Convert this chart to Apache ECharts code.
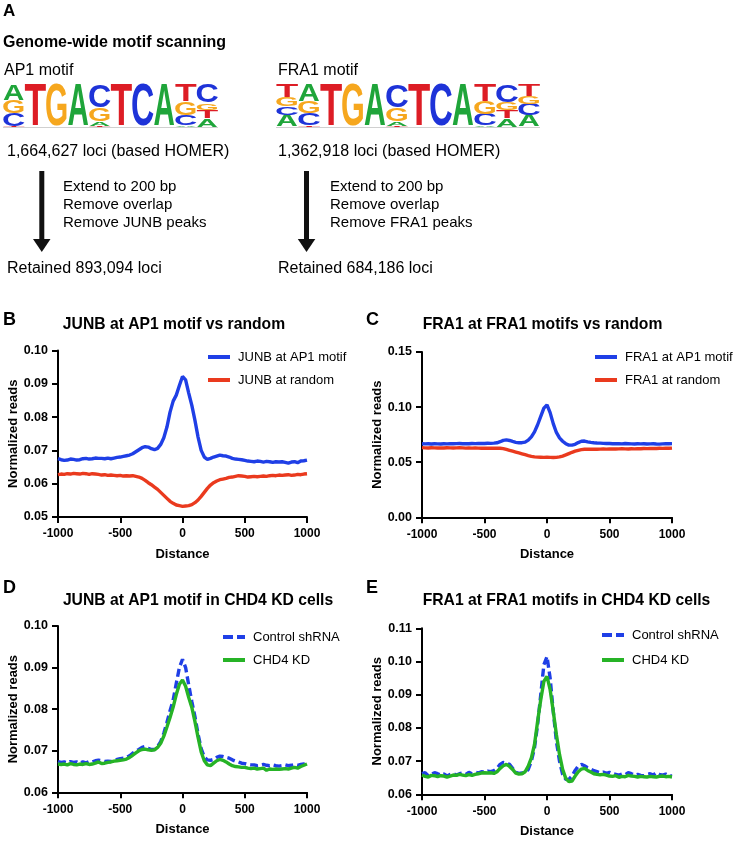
<!DOCTYPE html>
<html><head><meta charset="utf-8">
<script src="https://cdn.jsdelivr.net/npm/echarts@6/dist/echarts.min.js"></script>
<style>html,body{margin:0;padding:0;background:#fff}#chart{width:735px;height:841px}</style>
</head><body><div id="chart"></div>
<script>
const FONT = '"Liberation Sans", Arial, Helvetica, sans-serif';

// ---------- data ----------
const distance = [-1000,-975,-950,-925,-900,-875,-850,-825,-800,-775,-750,-725,-700,-675,-650,-625,-600,-575,-550,-525,-500,-475,-450,-425,-400,-375,-350,-325,-300,-275,-250,-225,-200,-175,-150,-125,-100,-75,-50,-25,0,25,50,75,100,125,150,175,200,225,250,275,300,325,350,375,400,425,450,475,500,525,550,575,600,625,650,675,700,725,750,775,800,825,850,875,900,925,950,975,1000];
const xTicks = [-1000,-500,0,500,1000];

const junbAp1 = [
0.0675,0.0672,0.0670,0.0671,0.0674,0.0673,0.0671,0.0672,0.0675,0.0676,
0.0674,0.0675,0.0677,0.0676,0.0676,0.0675,0.0677,0.0675,0.0677,0.0679,
0.0680,0.0682,0.0684,0.0686,0.0690,0.0696,0.0702,0.0708,0.0711,0.0710,
0.0705,0.0702,0.0706,0.0718,0.0738,0.0770,0.0815,0.0848,0.0866,0.0895,
0.0922,0.0912,0.0872,0.0835,0.0790,0.0740,0.0700,0.0680,0.0673,0.0676,
0.0680,0.0683,0.0686,0.0684,0.0683,0.0680,0.0676,0.0674,0.0673,0.0672,
0.0670,0.0668,0.0667,0.0666,0.0668,0.0667,0.0665,0.0667,0.0666,0.0664,
0.0666,0.0665,0.0666,0.0664,0.0662,0.0665,0.0666,0.0663,0.0668,0.0669,
0.0671];
const junbRandom = [
0.0627,0.0629,0.0628,0.0630,0.0629,0.0631,0.0630,0.0629,0.0631,0.0630,
0.0628,0.0630,0.0629,0.0628,0.0626,0.0627,0.0625,0.0626,0.0625,0.0624,
0.0625,0.0623,0.0624,0.0623,0.0624,0.0622,0.0620,0.0616,0.0610,0.0603,
0.0597,0.0590,0.0583,0.0574,0.0565,0.0556,0.0547,0.0541,0.0536,0.0534,
0.0532,0.0533,0.0534,0.0537,0.0543,0.0551,0.0562,0.0574,0.0586,0.0596,
0.0603,0.0608,0.0612,0.0614,0.0616,0.0619,0.0620,0.0622,0.0624,0.0623,
0.0622,0.0620,0.0621,0.0622,0.0621,0.0622,0.0623,0.0622,0.0624,0.0625,
0.0624,0.0626,0.0625,0.0626,0.0627,0.0625,0.0626,0.0628,0.0627,0.0629,
0.0630];
const fra1Ap1 = [
0.0668,0.0666,0.0667,0.0665,0.0667,0.0666,0.0665,0.0667,0.0666,0.0668,
0.0667,0.0669,0.0670,0.0668,0.0669,0.0668,0.0670,0.0669,0.0670,0.0671,
0.0670,0.0672,0.0671,0.0673,0.0676,0.0686,0.0698,0.0702,0.0697,0.0688,
0.0680,0.0677,0.0677,0.0682,0.0700,0.0730,0.0775,0.0840,0.0915,0.0990,
0.1020,0.0950,0.0850,0.0770,0.0720,0.0690,0.0668,0.0655,0.0655,0.0662,
0.0678,0.0690,0.0692,0.0685,0.0680,0.0676,0.0674,0.0673,0.0671,0.0670,
0.0670,0.0668,0.0667,0.0668,0.0666,0.0670,0.0668,0.0666,0.0665,0.0667,
0.0666,0.0667,0.0665,0.0666,0.0667,0.0665,0.0664,0.0666,0.0667,0.0668,
0.0669];
const fra1Random = [
0.0632,0.0630,0.0629,0.0631,0.0630,0.0629,0.0630,0.0629,0.0631,0.0630,
0.0629,0.0630,0.0631,0.0630,0.0628,0.0629,0.0628,0.0629,0.0628,0.0627,
0.0628,0.0627,0.0628,0.0627,0.0627,0.0626,0.0623,0.0616,0.0608,0.0600,
0.0592,0.0584,0.0576,0.0568,0.0560,0.0553,0.0548,0.0546,0.0545,0.0544,
0.0545,0.0544,0.0543,0.0544,0.0548,0.0556,0.0566,0.0578,0.0590,0.0600,
0.0608,0.0614,0.0617,0.0618,0.0618,0.0619,0.0618,0.0619,0.0620,0.0619,
0.0620,0.0621,0.0620,0.0621,0.0622,0.0621,0.0620,0.0622,0.0621,0.0623,
0.0622,0.0624,0.0623,0.0624,0.0625,0.0624,0.0626,0.0625,0.0627,0.0626,
0.0628];
const junbCtrl = [
0.0674,0.0672,0.0673,0.0671,0.0674,0.0672,0.0673,0.0670,0.0673,0.0671,
0.0674,0.0673,0.0676,0.0677,0.0676,0.0674,0.0675,0.0674,0.0677,0.0679,
0.0681,0.0682,0.0684,0.0688,0.0694,0.0699,0.0703,0.0708,0.0710,0.0706,
0.0703,0.0703,0.0710,0.0722,0.0742,0.0768,0.0796,0.0822,0.0862,0.0900,
0.0920,0.0900,0.0858,0.0818,0.0782,0.0740,0.0705,0.0685,0.0678,0.0677,
0.0679,0.0684,0.0687,0.0686,0.0684,0.0682,0.0678,0.0675,0.0673,0.0670,
0.0669,0.0667,0.0666,0.0666,0.0664,0.0665,0.0667,0.0665,0.0664,0.0666,
0.0664,0.0663,0.0664,0.0666,0.0664,0.0665,0.0667,0.0665,0.0667,0.0668,
0.0670];
const junbKd = [
0.0668,0.0667,0.0668,0.0666,0.0669,0.0667,0.0666,0.0668,0.0667,0.0669,
0.0667,0.0668,0.0670,0.0673,0.0669,0.0670,0.0672,0.0673,0.0675,0.0676,
0.0677,0.0678,0.0680,0.0684,0.0689,0.0695,0.0700,0.0703,0.0704,0.0702,
0.0701,0.0702,0.0708,0.0718,0.0735,0.0757,0.0780,0.0805,0.0835,0.0860,
0.0870,0.0855,0.0828,0.0804,0.0770,0.0732,0.0697,0.0676,0.0666,0.0664,
0.0670,0.0676,0.0679,0.0677,0.0673,0.0668,0.0664,0.0662,0.0661,0.0660,
0.0660,0.0658,0.0657,0.0658,0.0656,0.0657,0.0658,0.0653,0.0656,0.0655,
0.0656,0.0655,0.0656,0.0657,0.0656,0.0658,0.0660,0.0658,0.0662,0.0665,
0.0668];
const fra1Ctrl = [
0.0662,0.0665,0.0656,0.0661,0.0665,0.0662,0.0658,0.0661,0.0655,0.0660,
0.0662,0.0658,0.0662,0.0664,0.0660,0.0666,0.0662,0.0667,0.0664,0.0668,
0.0667,0.0670,0.0668,0.0671,0.0678,0.0690,0.0696,0.0694,0.0690,0.0678,
0.0666,0.0663,0.0664,0.0666,0.0675,0.0700,0.0740,0.0810,0.0900,0.0990,
0.1015,0.0950,0.0850,0.0760,0.0700,0.0660,0.0645,0.0645,0.0655,0.0672,
0.0685,0.0690,0.0686,0.0680,0.0676,0.0671,0.0668,0.0665,0.0667,0.0663,
0.0666,0.0662,0.0660,0.0658,0.0661,0.0659,0.0665,0.0662,0.0658,0.0660,
0.0657,0.0656,0.0660,0.0662,0.0658,0.0665,0.0660,0.0658,0.0661,0.0656,
0.0655];
const fra1Kd = [
0.0658,0.0654,0.0652,0.0657,0.0656,0.0653,0.0656,0.0655,0.0652,0.0655,
0.0658,0.0657,0.0660,0.0658,0.0656,0.0659,0.0657,0.0660,0.0662,0.0664,
0.0665,0.0664,0.0665,0.0663,0.0668,0.0678,0.0686,0.0690,0.0684,0.0675,
0.0664,0.0661,0.0662,0.0668,0.0685,0.0710,0.0750,0.0820,0.0885,0.0940,
0.0955,0.0915,0.0850,0.0780,0.0720,0.0675,0.0648,0.0638,0.0640,0.0655,
0.0668,0.0676,0.0678,0.0672,0.0667,0.0662,0.0660,0.0659,0.0660,0.0658,
0.0655,0.0654,0.0656,0.0651,0.0654,0.0653,0.0657,0.0655,0.0654,0.0652,
0.0654,0.0653,0.0652,0.0654,0.0653,0.0652,0.0654,0.0655,0.0653,0.0654,
0.0652];

const yTicksB = [0.05,0.06,0.07,0.08,0.09,0.10];
const yTicksC = [0.00,0.05,0.10,0.15];
const yTicksD = [0.06,0.07,0.08,0.09,0.10];
const yTicksE = [0.06,0.07,0.08,0.09,0.10,0.11];

// motif logos: letters bottom -> top, with base fractions
const ap1Letters = [['T','C','G','A'],['T'],['G'],['A'],['T','A','G','C'],['T'],['C'],['A'],['A','C','G','T'],['A','T','G','C']];
const ap1Fractions = [[0.02,0.30,0.30,0.38],[1],[1],[1],[0.03,0.10,0.32,0.55],[1],[1],[1],[0.04,0.24,0.32,0.40],[0.20,0.20,0.17,0.43]];
const fra1Letters = [['A','C','G','T'],['T','C','G','A'],['T'],['G'],['A'],['T','A','G','C'],['T'],['C'],['A'],['A','C','G','T'],['A','T','G','C'],['A','C','G','T']];
const fra1Fractions = [[0.28,0.20,0.22,0.30],[0.04,0.28,0.28,0.40],[1],[1],[1],[0.03,0.10,0.32,0.55],[1],[1],[1],[0.03,0.27,0.30,0.40],[0.20,0.20,0.18,0.42],[0.27,0.27,0.19,0.27]];

// ---------- styles ----------
const BLUE = '#1f3fe6', RED = '#ea3a1e', GREEN = '#26b326';
const LETTERS = ['A','C','G','T'];
const letterColor = {A:'#1fa53a', C:'#1e33d8', G:'#f6a71e', T:'#dd1d25'};
const inkWidth = {A:0.70, C:0.64, G:0.69, T:0.58};
const DASH_ICON = 'path://M0,0H10V4H0Z M14,0H22V4H14Z';

function logoData(letters, fracs){
  const out = [];
  letters.forEach((col, p) => {
    let base = 0;
    col.forEach((L, k) => { out.push([p, base, fracs[p][k], LETTERS.indexOf(L)]); base += fracs[p][k]; });
  });
  return out;
}
function renderLetter(params, api){
  const p = api.value(0), y0 = api.value(1), h = api.value(2), L = LETTERS[api.value(3)];
  const b = api.coord([p, y0]), t = api.coord([p, y0 + h]);
  const bw = api.size([1, 0])[0];
  const hp = b[1] - t[1];
  const sy = hp / 71.6;
  return {
    type: 'text',
    x: b[0], y: (b[1] + t[1]) / 2 + 4.8 * sy,
    scaleX: bw * 0.96 / (inkWidth[L] * 100),
    scaleY: sy,
    style: {text: L, font: 'bold 100px ' + FONT, fill: letterColor[L],
      textAlign: 'center', textVerticalAlign: 'middle', align: 'center', verticalAlign: 'middle'}
  };
}

const axisBase = {
  axisLine: {onZero: false, lineStyle: {color: '#000', width: 2}},
  axisTick: {length: 6, lineStyle: {color: '#000', width: 2}},
  splitLine: {show: false},
  nameTextStyle: {color: '#000', fontWeight: 'bold', fontSize: 13, fontFamily: FONT},
};
function tickCfg(t){ return {min: t[0], max: t[t.length-1], interval: +(t[1]-t[0]).toFixed(4)}; }
function xAx(gi){
  return Object.assign({}, axisBase, tickCfg(xTicks), {
    type: 'value', gridIndex: gi, name: 'Distance', nameLocation: 'middle', nameGap: 31,
    axisLabel: {color: '#000', fontWeight: 'bold', fontSize: 12, fontFamily: FONT, margin: 11, formatter: v => String(v)}
  });
}
function yAx(gi, t){
  return Object.assign({}, axisBase, tickCfg(t), {
    type: 'value', gridIndex: gi, name: 'Normalized reads', nameLocation: 'middle', nameGap: 37.5,
    axisLabel: {color: '#000', fontWeight: 'bold', fontSize: 12.5, fontFamily: FONT, margin: 10, formatter: v => v.toFixed(2)}
  });
}
function line(name, vals, color, gi, dashed, z){
  return {type: 'line', name, xAxisIndex: gi, yAxisIndex: gi, z: z || 2,
    data: distance.map((d, i) => [d, vals[i]]), symbol: 'none',
    lineStyle: {color, width: 3.4, type: dashed ? [8, 4] : 'solid'}, itemStyle: {color}};
}
function legend(left, top, gap, items){
  return {orient: 'vertical', left, top, padding: 0, itemWidth: 22, itemHeight: 4, itemGap: gap, data: items,
    selectedMode: false, itemStyle: {borderWidth: 0},
    textStyle: {fontSize: 13, fontFamily: FONT, color: '#000', padding: [0,0,0,3]}};
}

function txt(text, x, y, font, align){
  return {type: 'text', x, y, style: {text, font: font + ' ' + FONT, fill: '#000',
    textAlign: align || 'left', textVerticalAlign: 'middle', align: align || 'left', verticalAlign: 'middle'}};
}
const graphics = [
  txt('A', 3, 11, 'bold 17px'),
  txt('Genome-wide motif scanning', 3, 43, 'bold 16px'),
  txt('AP1 motif', 4, 71, '16px'),
  txt('FRA1 motif', 278, 71, '16px'),
  txt('1,664,627 loci (based HOMER)', 7, 151.5, '16px'),
  txt('1,362,918 loci (based HOMER)', 278, 151.5, '16px'),
  txt('Extend to 200 bp', 63, 186.5, '15px'),
  txt('Remove overlap', 63, 204.5, '15px'),
  txt('Remove JUNB peaks', 63, 222.5, '15px'),
  txt('Extend to 200 bp', 330, 186.5, '15px'),
  txt('Remove overlap', 330, 204.5, '15px'),
  txt('Remove FRA1 peaks', 330, 222.5, '15px'),
  txt('Retained 893,094 loci', 7, 268.5, '16px'),
  txt('Retained 684,186 loci', 278, 268.5, '16px'),
  txt('B', 3, 320, 'bold 18px'),
  txt('C', 366, 320, 'bold 18px'),
  txt('D', 3, 588, 'bold 18px'),
  txt('E', 366, 588, 'bold 18px'),
  txt('JUNB at AP1 motif vs random', 174, 325, 'bold 15.7px', 'center'),
  txt('FRA1 at FRA1 motifs vs random', 542.5, 325, 'bold 15.7px', 'center'),
  txt('JUNB at AP1 motif in CHD4 KD cells', 198, 601, 'bold 15.7px', 'center'),
  txt('FRA1 at FRA1 motifs in CHD4 KD cells', 566.5, 601, 'bold 15.7px', 'center'),
  {type: 'rect', shape: {x: 39.3, y: 171, width: 5, height: 69}, style: {fill: '#111'}},
  {type: 'polygon', shape: {points: [[33, 239], [50.5, 239], [41.8, 252]]}, style: {fill: '#111'}},
  {type: 'rect', shape: {x: 304, y: 171, width: 5, height: 69}, style: {fill: '#111'}},
  {type: 'polygon', shape: {points: [[297.8, 239], [315.3, 239], [306.5, 252]]}, style: {fill: '#111'}},
  {type: 'line', shape: {x1: 3, y1: 127.5, x2: 218, y2: 127.5}, style: {stroke: '#d0d0d0', lineWidth: 1}},
  {type: 'line', shape: {x1: 276, y1: 127.5, x2: 540, y2: 127.5}, style: {stroke: '#d0d0d0', lineWidth: 1}},
];

const option = {
  animation: false,
  backgroundColor: '#fff',
  textStyle: {fontFamily: FONT},
  grid: [
    {left: 58, top: 350.5, width: 249, height: 166.5},
    {left: 422, top: 352, width: 250, height: 165.3},
    {left: 58, top: 626, width: 249, height: 166.3},
    {left: 422, top: 628.3, width: 250, height: 166},
    {left: 3, top: 85, width: 215, height: 42},
    {left: 276, top: 85, width: 264, height: 42},
  ],
  xAxis: [xAx(0), xAx(1), xAx(2), xAx(3),
    {type: 'category', gridIndex: 4, show: false, data: ap1Letters.map((c, i) => String(i + 1))},
    {type: 'category', gridIndex: 5, show: false, data: fra1Letters.map((c, i) => String(i + 1))}],
  yAxis: [yAx(0, yTicksB), yAx(1, yTicksC), yAx(2, yTicksD), yAx(3, yTicksE),
    {type: 'value', gridIndex: 4, show: false, min: 0, max: 1},
    {type: 'value', gridIndex: 5, show: false, min: 0, max: 1}],
  legend: [
    legend(208, 350.5, 10, [{name: 'JUNB at AP1 motif', icon: 'rect'}, {name: 'JUNB at random', icon: 'rect'}]),
    legend(595, 350.5, 10, [{name: 'FRA1 at AP1 motif', icon: 'rect'}, {name: 'FRA1 at random', icon: 'rect'}]),
    legend(223, 630.5, 10, [{name: 'Control shRNA', icon: DASH_ICON}, {name: 'CHD4 KD', icon: 'rect'}]),
    legend(602, 628.5, 12, [{name: 'Control shRNA', icon: DASH_ICON}, {name: 'CHD4 KD', icon: 'rect'}]),
  ],
  series: [
    line('JUNB at AP1 motif', junbAp1, BLUE, 0),
    line('JUNB at random', junbRandom, RED, 0),
    line('FRA1 at random', fra1Random, RED, 1),
    line('FRA1 at AP1 motif', fra1Ap1, BLUE, 1, false, 3),
    line('Control shRNA', junbCtrl, BLUE, 2, true),
    line('CHD4 KD', junbKd, GREEN, 2, false, 3),
    line('Control shRNA', fra1Ctrl, BLUE, 3, true),
    line('CHD4 KD', fra1Kd, GREEN, 3, false, 3),
    {type: 'custom', xAxisIndex: 4, yAxisIndex: 4, renderItem: renderLetter, data: logoData(ap1Letters, ap1Fractions), silent: true},
    {type: 'custom', xAxisIndex: 5, yAxisIndex: 5, renderItem: renderLetter, data: logoData(fra1Letters, fra1Fractions), silent: true},
  ],
  graphic: graphics,
};
const chart = echarts.init(document.getElementById('chart'), null, {renderer: 'canvas'});
chart.setOption(option);
</script></body></html>
